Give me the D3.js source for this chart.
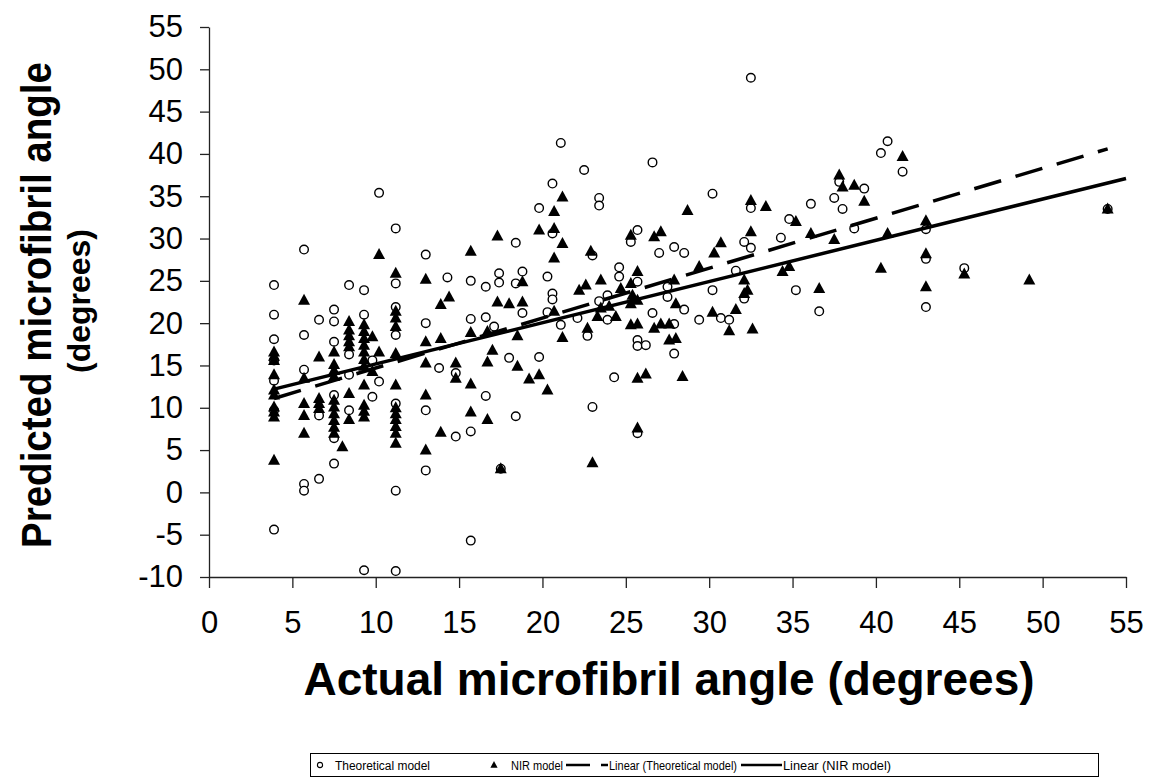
<!DOCTYPE html>
<html><head><meta charset="utf-8">
<script src="https://cdn.jsdelivr.net/npm/d3@7"></script>
<style>
body{margin:0;background:#fff}
svg{display:block}
text{font-family:"Liberation Sans",Arial,sans-serif;fill:#000}
</style>
</head><body>
<svg id="chart" width="1153" height="780"></svg>
<script>
// ---------- DATA ----------
const xTicks = [0, 5, 10, 15, 20, 25, 30, 35, 40, 45, 50, 55];
const yTicks = [-10, -5, 0, 5, 10, 15, 20, 25, 30, 35, 40, 45, 50, 55];

const xTitle = "Actual microfibril angle (degrees)";
const yTitleLines = ["Predicted microfibril angle", "(degrees)"];

const seriesNames = ["Theoretical model", "NIR model", "Linear (Theoretical model)", "Linear (NIR model)"];

// Theoretical model [actual, predicted]
const theoretical = [
  [3.9,24.5],[3.9,21.0],[3.9,18.1],[3.9,15.6],[3.9,13.2],[3.9,9.7],[3.9,-4.4],
  [5.7,28.7],[5.7,18.6],[5.7,14.5],[5.7,1.0],[5.7,0.2],
  [6.6,20.4],[6.6,9.1],[6.6,1.6],
  [7.5,21.6],[7.5,20.2],[7.5,17.8],[7.5,11.5],[7.5,6.4],[7.5,3.4],
  [8.4,24.5],[8.4,16.3],[8.4,13.9],[8.4,9.7],
  [9.3,23.9],[9.3,21.0],[9.3,-9.2],
  [9.8,15.6],[9.8,11.3],
  [10.2,35.4],[10.2,13.1],
  [11.2,31.2],[11.2,24.7],[11.2,21.9],[11.2,18.6],[11.2,10.5],[11.2,0.2],[11.2,-9.3],
  [13.0,28.1],[13.0,20.0],[13.0,9.7],[13.0,2.6],
  [13.8,14.7],[14.3,25.4],[14.8,14.1],[14.8,6.6],
  [15.7,25.0],[15.7,20.5],[15.7,7.2],[15.7,-5.7],
  [16.6,24.3],[16.6,20.7],[16.6,11.4],[17.1,19.6],
  [17.4,25.9],[17.4,24.8],[17.5,2.8],[18.0,15.9],
  [18.4,29.5],[18.4,24.7],[18.4,9.0],[18.8,26.1],[18.8,21.2],
  [19.8,33.6],[19.8,16.0],[20.3,25.5],[20.3,21.3],
  [20.6,36.5],[20.6,30.6],[20.6,23.5],[20.6,22.8],
  [21.1,41.3],[21.1,19.8],[22.1,20.6],[22.5,38.1],[22.7,18.5],[23.0,28.0],[23.0,10.1],
  [23.4,34.8],[23.4,33.9],[23.4,22.6],[23.9,23.3],[23.9,20.4],[24.3,13.6],
  [24.6,26.6],[24.6,25.5],[25.3,29.6],
  [25.7,31.0],[25.7,24.9],[25.7,18.0],[25.7,17.3],[25.7,7.0],[26.2,17.4],
  [26.6,39.0],[26.6,21.2],[27.0,28.3],[27.5,24.3],[27.5,23.1],
  [27.9,29.0],[27.9,19.9],[27.9,16.4],[28.5,28.3],[28.5,21.6],[29.4,20.4],
  [30.2,35.3],[30.2,23.9],[30.7,20.6],[31.2,20.4],[31.6,26.2],
  [32.1,29.6],[32.1,22.9],[32.5,49.0],[32.5,33.6],[32.5,28.9],
  [34.3,30.1],[34.8,32.3],[35.2,23.9],[36.1,34.1],[36.6,21.4],
  [37.5,34.8],[37.8,36.7],[38.0,33.5],[38.7,31.2],[39.3,35.9],
  [40.3,40.1],[40.7,41.5],[41.6,37.9],
  [43.0,31.1],[43.0,27.6],[43.0,21.9],[45.3,26.5],[53.9,33.5]
];

// NIR model [actual, predicted]
const nir = [
  [3.9,16.6],[3.9,16.1],[3.9,15.6],[3.9,13.9],[3.9,12.1],[3.9,11.5],[3.9,10.1],[3.9,9.5],[3.9,8.9],[3.9,3.8],
  [5.7,22.7],[5.7,13.5],[5.7,10.5],[5.7,9.1],[5.7,7.0],
  [6.6,16.0],[6.6,11.1],[6.6,10.5],[6.6,9.9],
  [7.5,16.6],[7.5,15.1],[7.5,14.4],[7.5,13.7],[7.5,10.9],[7.5,10.1],[7.5,9.3],[7.5,8.5],[7.5,7.7],[7.5,7.0],
  [8.0,5.4],
  [8.4,20.2],[8.4,19.2],[8.4,18.5],[8.4,17.8],[8.4,17.2],[8.4,11.7],[8.4,8.6],
  [9.3,19.8],[9.3,19.0],[9.3,18.2],[9.3,17.4],[9.3,16.6],[9.3,15.7],[9.3,14.9],[9.3,12.7],[9.3,10.3],[9.3,9.6],[9.3,8.9],
  [9.8,18.4],[9.8,14.3],[10.2,28.1],[10.2,16.6],
  [11.2,25.9],[11.2,21.4],[11.2,20.6],[11.2,19.6],[11.2,16.4],[11.2,12.7],[11.2,10.0],[11.2,9.3],[11.2,8.6],[11.2,7.8],[11.2,7.0],[11.2,5.8],
  [13.0,25.2],[13.0,17.8],[13.0,15.3],[13.0,11.5],[13.0,5.0],
  [13.9,22.2],[13.9,18.2],[13.9,7.1],[14.4,23.1],[14.8,15.3],[14.8,13.5],
  [15.7,28.5],[15.7,18.9],[15.7,12.8],[15.7,9.5],
  [16.7,19.0],[16.7,15.4],[16.7,8.6],[17.0,16.8],[17.3,30.3],[17.3,22.5],[17.5,2.8],
  [18.0,22.3],[18.5,18.5],[18.5,14.9],[18.8,24.9],[18.8,22.5],[19.2,13.4],
  [19.8,31.0],[19.8,13.9],[20.3,12.1],
  [20.7,33.2],[20.7,31.2],[20.7,27.7],[20.7,21.4],[21.2,34.9],[21.2,29.4],[21.2,18.3],
  [22.2,23.9],[22.6,24.5],[22.7,19.4],[22.9,28.5],[23.0,3.5],[23.3,20.8],
  [23.5,25.1],[23.5,21.8],[24.0,22.0],[24.4,20.8],[24.7,24.1],
  [25.3,30.4],[25.3,24.7],[25.3,22.3],[25.3,19.8],[25.4,23.3],
  [25.7,26.1],[25.7,22.7],[25.7,19.9],[25.7,13.5],[25.7,7.6],[26.2,14.0],
  [26.7,30.2],[26.7,19.4],[27.1,30.8],[27.1,19.9],[27.6,19.9],[27.6,18.0],
  [27.9,25.1],[28.0,22.3],[28.0,18.2],[28.4,13.7],[28.7,33.3],[29.4,26.7],
  [30.2,21.3],[30.3,28.3],[30.7,29.5],[31.2,19.1],[31.6,21.6],
  [32.1,25.1],[32.1,23.5],[32.3,23.9],[32.5,34.5],[32.5,30.8],[32.6,19.3],
  [33.4,33.8],[34.4,26.1],[34.8,26.7],[35.2,32.0],[36.1,30.6],[36.6,24.1],
  [37.5,29.9],[37.8,37.5],[38.0,36.1],[38.7,36.3],[39.3,34.4],
  [40.3,26.5],[40.7,30.6],[41.6,39.7],
  [43.0,32.1],[43.0,28.2],[43.0,24.3],[45.3,25.8],[49.2,25.1],[53.9,33.5]
];

// Trend line end points
const theoreticalTrend = [[3.9, 11.1], [53.9, 40.6]];
const nirTrend = [[3.9, 12.2], [55.0, 37.1]];

// ---------- CHART ----------
const svg = d3.select("#chart");
svg.append("rect").attr("width",1153).attr("height",780).attr("fill","#fff");

const x = d3.scaleLinear().domain([0, 55]).range([209, 1126]);
const y = d3.scaleLinear().domain([-10, 55]).range([577, 27]);

// Axes
const fmt = d => String(d);
const yAxis = svg.append("g").attr("transform","translate(209,0)")
  .call(d3.axisLeft(y).tickValues(yTicks).tickSize(9).tickSizeOuter(0).tickPadding(17).tickFormat(fmt));
const xAxis = svg.append("g").attr("transform","translate(0,577)")
  .call(d3.axisBottom(x).tickValues(xTicks).tickSize(11).tickSizeOuter(0).tickPadding(23).tickFormat(fmt));
[yAxis, xAxis].forEach(g=>{
  g.select(".domain").attr("stroke","#222").attr("stroke-width",1.3);
  g.selectAll(".tick line").attr("stroke","#222").attr("stroke-width",1.3);
  g.selectAll(".tick text").attr("font-size",31).attr("font-family",'"Liberation Sans",Arial,sans-serif').attr("fill","#000");
});

// Axis titles
svg.append("text").attr("x",669).attr("y",695).attr("text-anchor","middle")
  .attr("font-size",46).attr("font-weight","bold").text(xTitle);
svg.append("text").attr("transform","translate(51,305) rotate(-90)")
  .attr("text-anchor","middle").attr("font-size",43).attr("font-weight","bold")
  .attr("textLength",486).attr("lengthAdjust","spacingAndGlyphs").text(yTitleLines[0]);
svg.append("text").attr("transform","translate(90,301) rotate(-90)")
  .attr("text-anchor","middle").attr("font-size",32).attr("font-weight","bold").text(yTitleLines[1]);

// Markers
const triPath = "M0,-6.5L6,4.5L-6,4.5Z";
svg.append("g").selectAll("circle").data(theoretical).join("circle")
  .attr("cx",d=>x(d[0])).attr("cy",d=>y(d[1])).attr("r",4.3)
  .attr("fill","#fff").attr("stroke","#000").attr("stroke-width",1.4);
svg.append("g").selectAll("path").data(nir).join("path")
  .attr("d",triPath).attr("transform",d=>`translate(${x(d[0])},${y(d[1])})`)
  .attr("fill","#000");

// Trend lines
const line = d3.line().x(d=>x(d[0])).y(d=>y(d[1]));
svg.append("path").datum(theoreticalTrend).attr("d",line)
  .attr("fill","none").attr("stroke","#000").attr("stroke-width",3.5)
  .attr("stroke-dasharray","28,15");
svg.append("path").datum(nirTrend).attr("d",line)
  .attr("fill","none").attr("stroke","#000").attr("stroke-width",3.5);

// Legend
const lg = svg.append("g");
lg.append("rect").attr("x",310.5).attr("y",753.5).attr("width",788).attr("height",23)
  .attr("fill","#fff").attr("stroke","#000").attr("stroke-width",1);
const ly = 765;
lg.append("circle").attr("cx",320).attr("cy",ly).attr("r",2.6).attr("fill","#fff").attr("stroke","#000").attr("stroke-width",1.1);
lg.append("path").attr("d","M0,-4L3.6,2.8L-3.6,2.8Z").attr("transform",`translate(494,${ly})`).attr("fill","#000");
lg.append("line").attr("x1",566).attr("x2",608).attr("y1",ly).attr("y2",ly)
  .attr("stroke","#000").attr("stroke-width",2.5).attr("stroke-dasharray","24,11");
lg.append("line").attr("x1",741).attr("x2",782).attr("y1",ly).attr("y2",ly)
  .attr("stroke","#000").attr("stroke-width",2.5);
const legX = [335, 511, 609, 783];
const legW = [95, 52, 128, 108];
seriesNames.forEach((n,i)=>{
  lg.append("text").attr("x",legX[i]).attr("y",ly+4.5).attr("font-size",12.5)
    .attr("textLength",legW[i]).attr("lengthAdjust","spacingAndGlyphs").text(n);
});
</script>
</body></html>
